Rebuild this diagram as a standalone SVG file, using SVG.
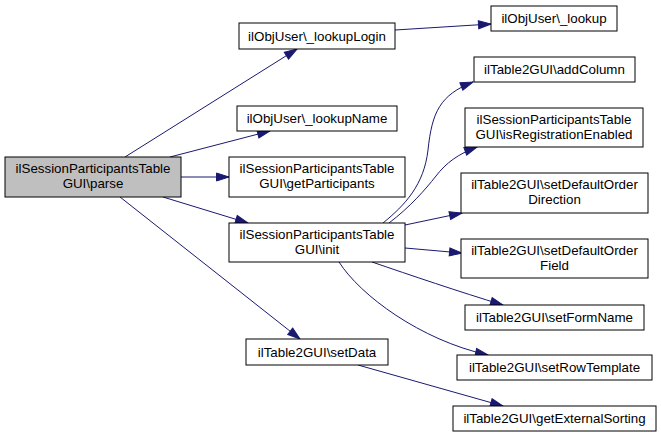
<svg xmlns="http://www.w3.org/2000/svg" width="661" height="437" viewBox="0 0 661 437">
<style>
.n rect{fill:#fff;stroke:#000;stroke-width:1}
.n.root rect{fill:#bfbfbf}
.n text{font-family:"Liberation Sans",Arial,sans-serif;font-size:13.33px;text-anchor:middle;fill:#000}
.e path{fill:none;stroke:#191970;stroke-width:1;marker-end:url(#arr)}
</style>
<defs>
<marker id="arr" markerUnits="userSpaceOnUse" markerWidth="14" markerHeight="10" refX="12.5" refY="4" orient="auto" overflow="visible">
<path d="M0,0 L12.5,4 L0,8 Z" fill="#191970" stroke="#191970" stroke-width="1"/>
</marker>
</defs>
<rect width="661" height="437" fill="#fff"/>
<g id="connectors" class="e">
<path d="M125,157 L297,49"/>
<path d="M170,157 L270,131"/>
<path d="M181,177 L229,177"/>
<path d="M163,197 L248,223"/>
<path d="M120,197 L300,339"/>
<path d="M395,30 L491,24"/>
<path d="M383,223 C405,205 424,185 428,150 C432,112 440,95 473,82"/>
<path d="M389,223 C410,207 425,190 436,176 C446,163 458,154 477,147"/>
<path d="M405,225 L462,213"/>
<path d="M405,248 L462,253"/>
<path d="M372,262 C410,275 460,292 503,305"/>
<path d="M339,262 C360,295 420,340 488,355"/>
<path d="M358,365 L503,406"/>
</g>
<g id="parse" class="n root"><rect x="5" y="157" width="176" height="40"/><text x="93" y="173">ilSessionParticipantsTable</text><text x="93" y="188">GUI\parse</text></g>
<g id="lookupLogin" class="n"><rect x="239" y="23" width="156" height="26"/><text x="317" y="40.5">ilObjUser\_lookupLogin</text></g>
<g id="lookupName" class="n"><rect x="237" y="106" width="160" height="25"/><text x="317" y="123">ilObjUser\_lookupName</text></g>
<g id="getParticipants" class="n"><rect x="229" y="157" width="176" height="40"/><text x="317" y="173">ilSessionParticipantsTable</text><text x="317" y="188">GUI\getParticipants</text></g>
<g id="init" class="n"><rect x="229" y="223" width="176" height="39"/><text x="317" y="239">ilSessionParticipantsTable</text><text x="317" y="254">GUI\init</text></g>
<g id="setData" class="n"><rect x="246" y="339" width="142" height="26"/><text x="317" y="356.5">ilTable2GUI\setData</text></g>
<g id="lookup" class="n"><rect x="491" y="6" width="126" height="25"/><text x="554" y="23">ilObjUser\_lookup</text></g>
<g id="addColumn" class="n"><rect x="474" y="57" width="161" height="25"/><text x="554.5" y="74">ilTable2GUI\addColumn</text></g>
<g id="isRegistrationEnabled" class="n"><rect x="465" y="108" width="178" height="39"/><text x="554" y="124">ilSessionParticipantsTable</text><text x="554" y="139">GUI\isRegistrationEnabled</text></g>
<g id="setDefaultOrderDirection" class="n"><rect x="461" y="173" width="187" height="40"/><text x="554.5" y="189">ilTable2GUI\setDefaultOrder</text><text x="554.5" y="204">Direction</text></g>
<g id="setDefaultOrderField" class="n"><rect x="461" y="239" width="187" height="39"/><text x="554.5" y="255">ilTable2GUI\setDefaultOrder</text><text x="554.5" y="270">Field</text></g>
<g id="setFormName" class="n"><rect x="465" y="305" width="179" height="25"/><text x="554.5" y="322">ilTable2GUI\setFormName</text></g>
<g id="setRowTemplate" class="n"><rect x="457" y="355" width="195" height="25"/><text x="554.5" y="372">ilTable2GUI\setRowTemplate</text></g>
<g id="getExternalSorting" class="n"><rect x="453" y="406" width="203" height="25"/><text x="554.5" y="423">ilTable2GUI\getExternalSorting</text></g>
</svg>
